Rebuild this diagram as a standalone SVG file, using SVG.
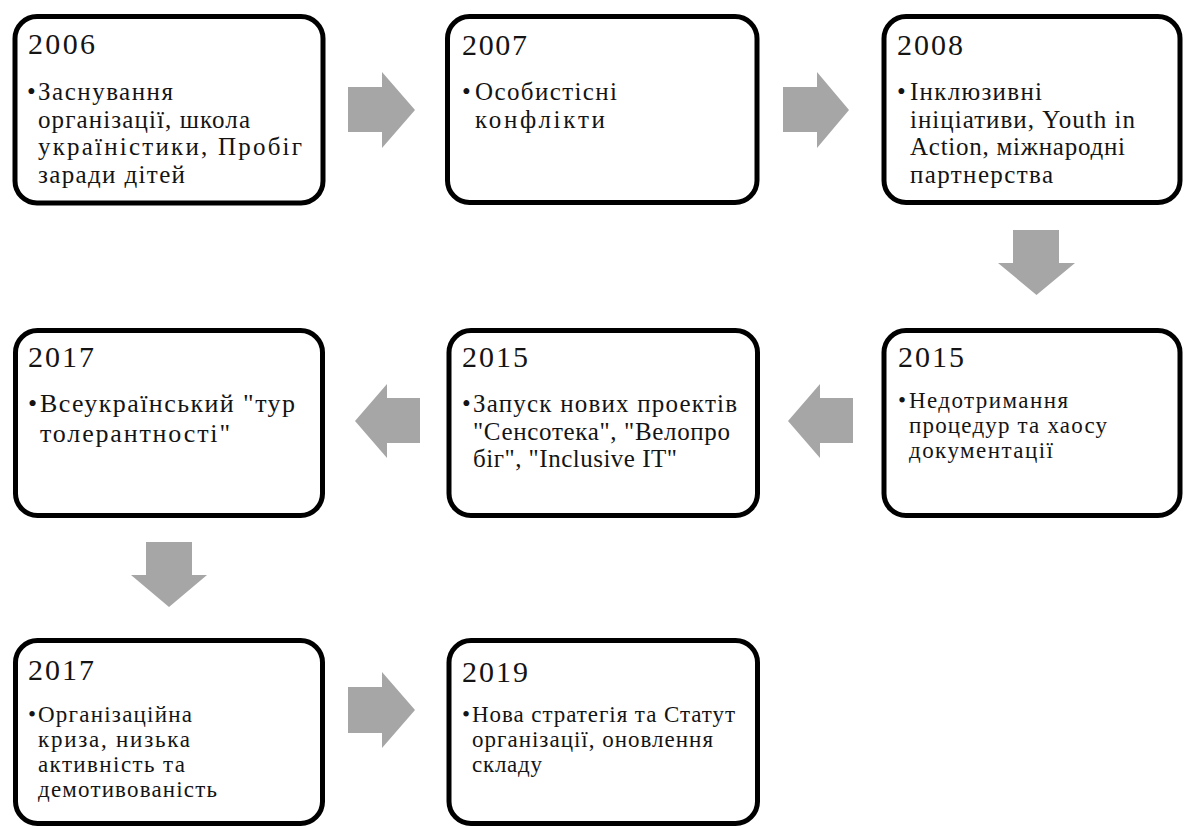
<svg xmlns="http://www.w3.org/2000/svg" width="1184" height="826" viewBox="0 0 1184 826">
<style>
.box{fill:#fff;stroke:#000;stroke-width:5}
.arrow{fill:#a6a6a6}
text{font-family:"Liberation Serif","DejaVu Serif",serif;fill:#141414}
.yr{font-size:30px}
.b{font-size:25px}
.s{font-size:23px}
</style>
<rect width="1184" height="826" fill="#fff"/>
<g id="connectors">
<polygon class="arrow" points="348,87 382,87 382,72 415,110 382,148 382,132 348,132"/>
<polygon class="arrow" points="783,87 817,87 817,72 849,110 817,148 817,132 783,132"/>
<polygon class="arrow" points="1013,230 1059,230 1059,263 1075,263 1036.5,295 998,263 1013,263"/>
<polygon class="arrow" points="853,398 820,398 820,384 788,421 820,458 820,443 853,443"/>
<polygon class="arrow" points="420,398 387,398 387,384 355,421 387,458 387,443 420,443"/>
<polygon class="arrow" points="146,542 192,542 192,575 207,575 169,607 131,575 146,575"/>
<polygon class="arrow" points="348,687 382,687 382,672 415,710 382,748 382,733 348,733"/>
</g>
<g id="n2006">
<rect class="box" x="15" y="16.5" width="308" height="186.5" rx="22"/>
<text class="yr" x="28" y="54" textLength="67">2006</text>
<text class="b" x="27" y="100">•</text>
<text class="b" x="38" y="100" textLength="135">Заснування</text>
<text class="b" x="38" y="127.5" textLength="212">організації, школа</text>
<text class="b" x="38" y="155" textLength="264">україністики, Пробіг</text>
<text class="b" x="38" y="182.5" textLength="147">заради дітей</text>
</g>
<g id="n2007">
<rect class="box" x="447.5" y="16.5" width="309.5" height="186" rx="22"/>
<text class="yr" x="462" y="55" textLength="65">2007</text>
<text class="b" x="462" y="100">•</text>
<text class="b" x="475" y="100" textLength="142">Особистісні</text>
<text class="b" x="475" y="128" textLength="130">конфлікти</text>
</g>
<g id="n2008">
<rect class="box" x="884" y="16.5" width="296" height="186" rx="22"/>
<text class="yr" x="897" y="55" textLength="66">2008</text>
<text class="b" x="897" y="100">•</text>
<text class="b" x="910" y="100" textLength="132">Інклюзивні</text>
<text class="b" x="910" y="127.5" textLength="225">ініціативи, Youth in</text>
<text class="b" x="910" y="155" textLength="215">Action, міжнародні</text>
<text class="b" x="910" y="182.5" textLength="143">партнерства</text>
</g>
<g id="n2015b">
<rect class="box" x="884" y="330.5" width="296" height="185" rx="22"/>
<text class="yr" x="898" y="367" textLength="66">2015</text>
<text class="s" x="898" y="408">•</text>
<text class="s" x="909" y="408" textLength="159">Недотримання</text>
<text class="s" x="909" y="433" textLength="198">процедур та хаосу</text>
<text class="s" x="909" y="458" textLength="144">документації</text>
</g>
<g id="n2015a">
<rect class="box" x="449" y="330.5" width="308.5" height="185" rx="22"/>
<text class="yr" x="462" y="367" textLength="66">2015</text>
<text class="b" x="462" y="412">•</text>
<text class="b" x="473" y="412" textLength="264">Запуск нових проектів</text>
<text class="b" x="473" y="440" textLength="257">"Сенсотека", "Велопро</text>
<text class="b" x="473" y="467" textLength="204">біг", "Inclusive IT"</text>
</g>
<g id="n2017a">
<rect class="box" x="15.5" y="330.5" width="307" height="185" rx="22"/>
<text class="yr" x="28" y="367" textLength="66">2017</text>
<text class="b" x="28" y="412" style="font-size:26px">•</text>
<text class="b" x="40" y="412" textLength="255" style="font-size:26px">Всеукраїнський "тур</text>
<text class="b" x="40" y="442" textLength="190" style="font-size:26px">толерантності"</text>
</g>
<g id="n2017b">
<rect class="box" x="15.5" y="640.5" width="307" height="183" rx="22"/>
<text class="yr" x="28" y="680" textLength="66">2017</text>
<text class="s" x="28" y="722">•</text>
<text class="s" x="38" y="722" textLength="154">Організаційна</text>
<text class="s" x="38" y="747" textLength="152">криза, низька</text>
<text class="s" x="38" y="772" textLength="147">активність та</text>
<text class="s" x="38" y="797" textLength="179">демотивованість</text>
</g>
<g id="n2019">
<rect class="box" x="449" y="640.5" width="308.5" height="183" rx="22"/>
<text class="yr" x="462" y="682" textLength="66">2019</text>
<text class="s" x="462" y="722">•</text>
<text class="s" x="472" y="722" textLength="263">Нова стратегія та Статут</text>
<text class="s" x="472" y="747" textLength="241">організації, оновлення</text>
<text class="s" x="472" y="772" textLength="70">складу</text>
</g>
</svg>
